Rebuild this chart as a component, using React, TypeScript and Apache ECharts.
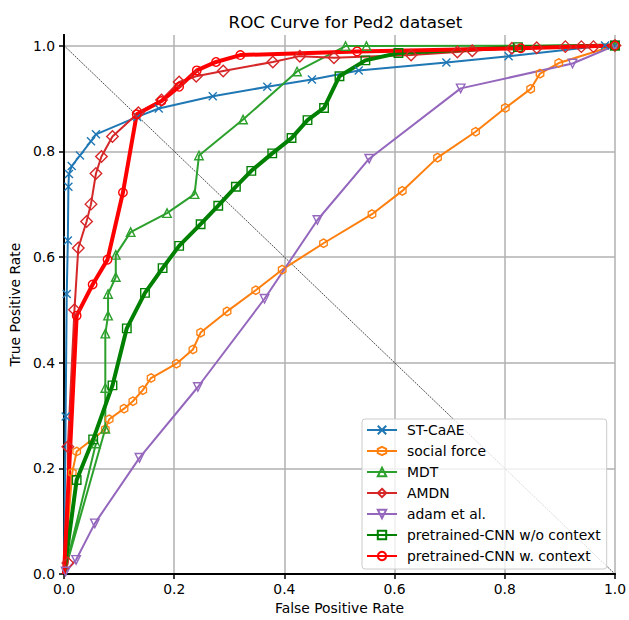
import React, { useEffect, useRef } from "react";
import * as echarts from "echarts";

const tickValues = [0, 0.2, 0.4, 0.6, 0.8, 1.0];

const stCaAE = [[0,0],[0.003,0.298],[0.005,0.53],[0.007,0.631],[0.008,0.733],[0.009,0.757],[0.014,0.772],[0.029,0.792],[0.049,0.819],[0.058,0.832],[0.133,0.865],[0.172,0.881],[0.27,0.904],[0.369,0.922],[0.45,0.936],[0.535,0.953],[0.694,0.968],[0.807,0.98],[0.982,1.0],[1,1]];
const socialForce = [[0,0],[0.015,0.192],[0.023,0.232],[0.075,0.274],[0.082,0.293],[0.109,0.313],[0.125,0.327],[0.143,0.348],[0.158,0.371],[0.204,0.398],[0.234,0.425],[0.248,0.457],[0.296,0.497],[0.348,0.537],[0.396,0.576],[0.471,0.626],[0.559,0.681],[0.614,0.725],[0.678,0.788],[0.747,0.837],[0.801,0.882],[0.847,0.918],[0.864,0.947],[0.898,0.967],[1,1]];
const mdt = [[0,0],[0.058,0.247],[0,0],[0.075,0.275],[0.075,0.352],[0.075,0.455],[0.08,0.489],[0.08,0.53],[0.094,0.562],[0.094,0.604],[0.121,0.647],[0.187,0.683],[0.237,0.719],[0.245,0.792],[0.325,0.86],[0.423,0.951],[0.511,0.999],[0.549,0.999],[1,1]];
const amdn = [[0,0],[0.007,0.021],[0.007,0.241],[0.019,0.5],[0.026,0.617],[0.041,0.667],[0.049,0.7],[0.058,0.758],[0.068,0.79],[0.088,0.828],[0.135,0.873],[0.177,0.897],[0.209,0.931],[0.24,0.942],[0.289,0.952],[0.379,0.969],[0.428,0.98],[0.49,0.977],[0.63,0.982],[0.714,0.988],[0.741,0.99],[0.813,0.995],[0.858,0.996],[0.91,0.998],[0.939,0.998],[0.961,0.998],[1,1]];
const adam = [[0.003,0.005],[0.022,0.027],[0.056,0.096],[0.137,0.22],[0.243,0.354],[0.364,0.521],[0.46,0.67],[0.554,0.786],[0.72,0.919],[0.923,0.966],[1,1]];
const cnnNoCtx = [[0,0],[0.023,0.178],[0.053,0.255],[0.088,0.357],[0.114,0.465],[0.147,0.532],[0.179,0.579],[0.209,0.621],[0.248,0.662],[0.28,0.697],[0.312,0.733],[0.34,0.763],[0.378,0.796],[0.413,0.825],[0.442,0.859],[0.472,0.882],[0.5,0.942],[0.547,0.972],[0.607,0.986],[0.824,0.997],[1,1]];
const cnnCtx = [[0,0],[0.023,0.489],[0.052,0.548],[0.079,0.595],[0.107,0.722],[0.132,0.87],[0.177,0.895],[0.209,0.922],[0.241,0.953],[0.276,0.969],[0.32,0.982],[0.532,0.989],[0.829,0.995],[1,1]];
const diagonal = [[0,1],[1,0]];

const X_PATH = "path://M0,0L10,10M0,10L10,0";
const HEX_PATH = "path://M5,0L9.33,2.5L9.33,7.5L5,10L0.67,7.5L0.67,2.5Z";

const FONT = "DejaVu Sans";

// points exactly at the origin carry no marker
function toItems(data: number[][]) {
  return data.map((p) => (p[0] === 0 && p[1] === 0 ? { value: p, symbol: "none" } : { value: p }));
}

function mk(name: string, data: number[][], color: string, symbol: string, size: any, width: number, rotate = 0) {
  return {
    name,
    type: "line",
    data: toItems(data),
    symbol,
    symbolSize: size,
    symbolRotate: rotate,
    showSymbol: true,
    lineStyle: { color, width },
    itemStyle: { color: "rgba(0,0,0,0)", borderColor: color, borderWidth: 1.4 },
    emphasis: { disabled: true },
    z: 3,
  };
}

const frameAxis = {
  axisLine: { show: true, lineStyle: { color: "#000", width: 2 } },
  axisTick: { show: false },
  axisLabel: { show: false },
  splitLine: { show: false },
};

export default function App() {
  const ref = useRef<HTMLDivElement>(null);
  useEffect(() => {
    document.body.style.margin = "0";
    if (!ref.current) return;
    const chart = echarts.init(ref.current, undefined, { renderer: "svg" });
    chart.setOption({
      animation: false,
      backgroundColor: "#fff",
      title: {
        text: "ROC Curve for Ped2 dataset",
        left: 340.5,
        top: 8,
        textAlign: "center",
        textStyle: { fontFamily: FONT, fontSize: 16.7, fontWeight: "normal", color: "#000" },
      },
      grid: { left: 63, right: 11, top: 35, bottom: 44 },
      legend: {
        left: 362,
        top: 419,
        orient: "vertical",
        itemWidth: 30,
        itemHeight: 10.5,
        itemGap: 7,
        padding: [4, 6, 6, 4],
        backgroundColor: "rgba(255,255,255,0.8)",
        borderColor: "#cccccc",
        borderWidth: 1,
        borderRadius: 3,
        textStyle: { fontFamily: FONT, fontSize: 13.9, color: "#000", padding: [0, 0, 0, 5] },
        data: ["ST-CaAE", "social force", "MDT", "AMDN", "adam et al.", "pretrained-CNN w/o context", "pretrained-CNN w. context"],
      },
      xAxis: [
        {
          type: "value",
          min: 0,
          max: 1,
          interval: 0.2,
          name: "False Positive Rate",
          nameLocation: "middle",
          nameGap: 24,
          nameTextStyle: { fontFamily: FONT, fontSize: 13.9, color: "#000" },
          axisLine: { show: true, onZero: false, lineStyle: { color: "#000", width: 2 } },
          axisTick: { show: true, length: 5, lineStyle: { color: "#000", width: 1.5 } },
          axisLabel: { margin: 8, fontFamily: FONT, fontSize: 13.9, color: "#000", formatter: (v: number) => v.toFixed(1) },
          splitLine: { show: true, lineStyle: { color: "#b0b0b0", width: 1.5 } },
        },
        { type: "value", min: 0, max: 1, position: "top", ...frameAxis },
      ],
      yAxis: [
        {
          type: "value",
          min: 0,
          max: 1.02,
          interval: 0.2,
          name: "True Positive Rate",
          nameLocation: "middle",
          nameGap: 36,
          nameRotate: 90,
          nameTextStyle: { fontFamily: FONT, fontSize: 13.9, color: "#000" },
          axisLine: { show: true, onZero: false, lineStyle: { color: "#000", width: 2 } },
          axisTick: { show: true, length: 5, lineStyle: { color: "#000", width: 1.5 }, customValues: tickValues },
          axisLabel: {
            margin: 9,
            fontFamily: FONT,
            fontSize: 13.9,
            color: "#000",
            customValues: tickValues,
            formatter: (v: number) => (Math.abs(v - 1.02) < 1e-6 ? "" : v.toFixed(1)),
          },
          splitLine: { show: true, lineStyle: { color: "#b0b0b0", width: 1.5 } },
        },
        { type: "value", min: 0, max: 1.02, position: "right", ...frameAxis },
      ],
      series: [
        {
          name: "diag",
          type: "line",
          data: diagonal,
          symbol: "none",
          lineStyle: { color: "#000", width: 0.7, type: [2, 1] },
          emphasis: { disabled: true },
          z: 2,
        },
        mk("ST-CaAE", stCaAE, "#1f77b4", X_PATH, 8, 2),
        mk("social force", socialForce, "#ff7f0e", HEX_PATH, [7.5, 8.5], 2),
        mk("MDT", mdt, "#2ca02c", "triangle", 8.5, 2),
        mk("AMDN", amdn, "#d62728", "diamond", 11.5, 2),
        mk("adam et al.", [[0, 0], ...adam], "#9467bd", "triangle", 8.5, 2, 180),
        mk("pretrained-CNN w/o context", cnnNoCtx, "#008000", "rect", 8.5, 4),
        mk("pretrained-CNN w. context", cnnCtx, "#ff0000", "circle", 8.5, 4),
      ],
    });
    return () => chart.dispose();
  }, []);
  return <div ref={ref} style={{ width: 629, height: 620 }} />;
}
